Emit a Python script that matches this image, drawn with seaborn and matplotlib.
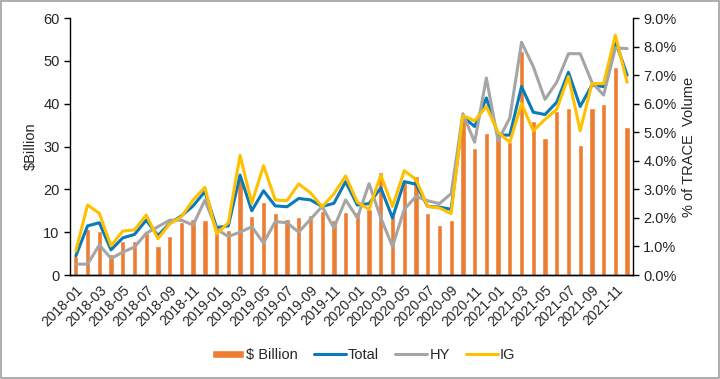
import matplotlib.pyplot as plt
import numpy as np
import pandas as pd
import seaborn as sns
from matplotlib.patches import Rectangle
from matplotlib.ticker import FuncFormatter, MultipleLocator

sns.set_style('white')
plt.rcParams['font.family'] = ['Liberation Sans', 'DejaVu Sans']

months = pd.period_range('2018-01', '2021-12', freq='M').strftime('%Y-%m').tolist()

billion = [4.4, 10.8, 10.2, 5.0, 8.0, 8.0, 9.7, 6.8, 9.2, 12.3, 13.1, 12.9,
           10.5, 10.5, 22.1, 13.8, 17.1, 14.4, 13.0, 13.5, 14.0, 14.9, 12.8, 14.8,
           14.8, 15.5, 24.1, 14.0, 21.8, 23.2, 14.4, 11.7, 12.8, 37.0, 29.6, 33.2,
           32.5, 31.0, 52.2, 36.0, 32.1, 38.3, 39.1, 30.3, 39.1, 39.9, 48.6, 34.6]

total = [0.67, 1.72, 1.83, 0.88, 1.30, 1.42, 1.92, 1.38, 1.81, 2.07, 2.42, 2.92,
         1.66, 1.72, 3.50, 2.25, 2.95, 2.42, 2.39, 2.68, 2.63, 2.40, 2.51, 3.27,
         2.45, 2.50, 3.05, 2.00, 3.27, 3.18, 2.40, 2.38, 2.30, 5.55, 5.20, 6.20,
         4.90, 4.90, 6.60, 5.70, 5.62, 6.05, 7.10, 5.90, 6.65, 6.60, 8.20, 7.00]

hy = [0.38, 0.38, 1.05, 0.58, 0.80, 0.98, 1.46, 1.69, 1.92, 1.92, 1.75, 2.62,
      1.60, 1.35, 1.50, 1.69, 1.12, 1.87, 1.83, 1.50, 1.95, 2.40, 1.65, 2.63,
      2.00, 3.20, 2.00, 1.00, 2.30, 2.75, 2.60, 2.50, 2.85, 5.65, 4.65, 6.90,
      4.70, 5.50, 8.15, 7.30, 6.15, 6.75, 7.75, 7.75, 6.75, 6.30, 7.95, 7.93]

ig = [0.85, 2.45, 2.16, 1.02, 1.54, 1.58, 2.10, 1.27, 1.79, 2.04, 2.63, 3.07,
      1.44, 1.83, 4.19, 2.51, 3.83, 2.63, 2.60, 3.19, 2.88, 2.39, 2.84, 3.47,
      2.55, 2.30, 3.50, 2.40, 3.65, 3.35, 2.40, 2.35, 2.15, 5.58, 5.40, 5.90,
      5.00, 4.65, 6.00, 5.05, 5.45, 5.80, 6.95, 5.05, 6.70, 6.70, 8.40, 6.75]

df = pd.DataFrame({'month': months, 'billion': billion,
                   'Total': total, 'HY': hy, 'IG': ig})
df['pos'] = np.arange(len(df))

fig = plt.figure(figsize=(7.2, 3.79), dpi=100)
ax = fig.add_axes([0.0972, 0.2744, 0.7819, 0.6781])

sns.barplot(data=df, x='month', y='billion', color='#ED7D31', width=0.45,
            saturation=1, ax=ax, label=r'\$ Billion')
if ax.get_legend() is not None:
    ax.get_legend().remove()

ax2 = ax.twinx()
line_cols = {'Total': '#0A7AB8', 'HY': '#A5A5A5', 'IG': '#FFC000'}
for k in ['Total', 'HY', 'IG']:
    sns.lineplot(data=df, x='pos', y=k, color=line_cols[k], linewidth=2.2,
                 ax=ax2, label=k, legend=False)

ax.set_xlim(-0.5, len(df) - 0.5)
ax.set_ylim(0, 60)
ax2.set_ylim(0, 9)
ax.yaxis.set_major_locator(MultipleLocator(10))
ax2.yaxis.set_major_locator(MultipleLocator(1))
ax2.yaxis.set_major_formatter(FuncFormatter(lambda v, p: '{:.1f}%'.format(v)))

ax.set_xticks(np.arange(0, len(df), 2))
ax.set_xticklabels(months[::2], rotation=45, ha='right', rotation_mode='anchor')
ax.set_xticks(np.arange(-0.5, len(df), 1), minor=True)
ax.tick_params(axis='x', which='major', length=0, labelsize=10, pad=6)
ax.tick_params(axis='x', which='minor', length=4, width=1, color='black', direction='out')
ax.tick_params(axis='y', length=4, width=1, color='black', direction='out', labelsize=10.5)
ax2.tick_params(axis='y', length=4, width=1, color='black', direction='out', labelsize=10.5)

ax.set_xlabel('')
ax.set_ylabel(r'\$Billion', fontsize=10.5)
ax2.set_ylabel('% of TRACE  Volume', fontsize=10.5)
ax2.set_xlabel('')

for a in (ax, ax2):
    a.spines['top'].set_visible(False)
    for s in ['left', 'right', 'bottom']:
        a.spines[s].set_color('black')
        a.spines[s].set_linewidth(1)
    a.grid(False)
ax.spines['right'].set_visible(False)
ax2.spines['left'].set_visible(False)

h1, l1 = ax.get_legend_handles_labels()
h2, l2 = ax2.get_legend_handles_labels()
fig.legend(h1 + h2, l1 + l2, loc='center', bbox_to_anchor=(0.505, 0.063), ncol=4,
           frameon=False, fontsize=10.5, handlelength=2.2, handleheight=0.5,
           columnspacing=1.1, handletextpad=0.15)

fig.patches.append(Rectangle((0.001, 0.002), 0.997, 0.995, transform=fig.transFigure,
                             fill=False, edgecolor='#A0A0A0', linewidth=1.2))

fig.savefig('out.png', dpi=100)
